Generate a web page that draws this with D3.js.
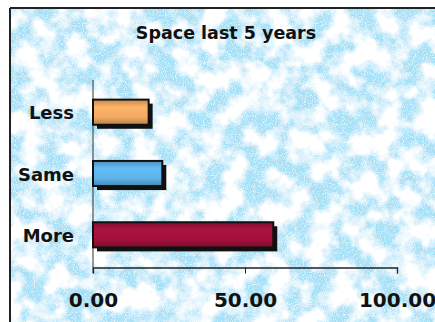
<!DOCTYPE html>
<html>
<head>
<meta charset="utf-8">
<script src="https://cdn.jsdelivr.net/npm/d3@7/dist/d3.min.js"></script>
<style>
  html, body { margin: 0; padding: 0; background: #fff; }
  svg { display: block; }
  text { font-family: "DejaVu Sans", sans-serif; font-weight: bold; fill: #111; }
</style>
</head>
<body>
<script>
// Survey answers: change in office space over the last five years
const categories = ["Less", "Same", "More"];
const values = [18.3, 22.8, 59.3];
const barColors = ["#f2aa62", "#5db3ea", "#a3103c"];
const tickValues = [0, 50, 100];
const title = "Space last 5 years";

const W = 435, H = 322;
const svg = d3.select("body").append("svg").attr("width", W).attr("height", H);
const defs = svg.append("defs");

// mottled, grainy blue paper texture
const tex = defs.append("filter").attr("id", "paper")
  .attr("x", 0).attr("y", 0).attr("width", "100%").attr("height", "100%");
tex.append("feTurbulence").attr("type", "fractalNoise")
  .attr("baseFrequency", 0.045).attr("numOctaves", 4).attr("seed", 7).attr("result", "cloud");
tex.append("feColorMatrix").attr("in", "cloud").attr("type", "matrix")
  .attr("values", "0 0 0 0 0.38  0 0 0 0 0.75  0 0 0 0 0.93  3.8 0 0 0 -1.4")
  .attr("result", "blue");
tex.append("feTurbulence").attr("type", "fractalNoise")
  .attr("baseFrequency", 1.1).attr("numOctaves", 1).attr("seed", 3).attr("result", "grain");
tex.append("feColorMatrix").attr("in", "grain").attr("type", "matrix")
  .attr("values", "0 0 0 0 0  0 0 0 0 0  0 0 0 0 0  3 0 0 0 -0.5")
  .attr("result", "mask");
tex.append("feComposite").attr("in", "blue").attr("in2", "mask").attr("operator", "in").attr("result", "speckled");
tex.append("feFlood").attr("flood-color", "#ffffff").attr("result", "white");
tex.append("feComposite").attr("in", "speckled").attr("in2", "white").attr("operator", "over");

// bar shading
barColors.forEach((c, i) => {
  const g = defs.append("linearGradient").attr("id", "bg" + i)
    .attr("x1", 0).attr("y1", 0).attr("x2", 0).attr("y2", 1);
  const base = d3.color(c);
  g.append("stop").attr("offset", "0%").attr("stop-color", base.darker(0.6));
  g.append("stop").attr("offset", "30%").attr("stop-color", base.brighter(0.15));
  g.append("stop").attr("offset", "70%").attr("stop-color", base);
  g.append("stop").attr("offset", "100%").attr("stop-color", base.darker(0.8));
});

// frame
svg.append("rect").attr("x", 10).attr("y", 8).attr("width", W - 10).attr("height", H - 8)
  .attr("fill", "#fff").attr("filter", "url(#paper)");
svg.append("line").attr("x1", 10).attr("x2", W).attr("y1", 8).attr("y2", 8)
  .attr("stroke", "#222").attr("stroke-width", 2);
svg.append("line").attr("x1", 10).attr("x2", 10).attr("y1", 8).attr("y2", H)
  .attr("stroke", "#222").attr("stroke-width", 2);

// title
svg.append("text").attr("x", 226).attr("y", 39).attr("text-anchor", "middle")
  .style("font-size", "17.5px").text(title);

const x = d3.scaleLinear().domain([0, 100]).range([93, 397]);
const y = d3.scaleBand().domain(categories).range([80, 267]).paddingInner(0.59).paddingOuter(0.32);

// category axis
svg.append("line").attr("x1", x(0)).attr("x2", x(0)).attr("y1", 80).attr("y2", 273)
  .attr("stroke", "#333").attr("stroke-width", 1);
svg.selectAll(".cat").data(categories).join("text")
  .attr("class", "cat")
  .attr("x", 74).attr("y", d => y(d) + y.bandwidth() / 2 + 7)
  .attr("text-anchor", "end").style("font-size", "18px").text(d => d);

// value axis
const xAxis = svg.append("g").attr("transform", "translate(0,267.5)")
  .call(d3.axisBottom(x).tickValues(tickValues).tickSize(6).tickFormat(d3.format(".2f")));
xAxis.select(".domain").attr("stroke", "#222").attr("stroke-width", 1.3);
xAxis.selectAll(".tick line").attr("stroke", "#222");
xAxis.selectAll(".tick text").attr("y", 25)
  .style("font-family", "'DejaVu Sans', sans-serif").style("font-weight", "bold")
  .style("font-size", "20px").attr("fill", "#111");

// bars with drop shadow
const bars = svg.append("g");
bars.selectAll(".shadow").data(values).join("rect")
  .attr("class", "shadow")
  .attr("x", x(0) + 4).attr("y", (d, i) => y(categories[i]) + 4)
  .attr("width", d => x(d) - x(0)).attr("height", y.bandwidth())
  .attr("fill", "#111");
bars.selectAll(".bar").data(values).join("rect")
  .attr("class", "bar")
  .attr("x", x(0)).attr("y", (d, i) => y(categories[i]))
  .attr("width", d => x(d) - x(0)).attr("height", y.bandwidth())
  .attr("fill", (d, i) => `url(#bg${i})`)
  .attr("stroke", "#111").attr("stroke-width", 2);
</script>
</body>
</html>
